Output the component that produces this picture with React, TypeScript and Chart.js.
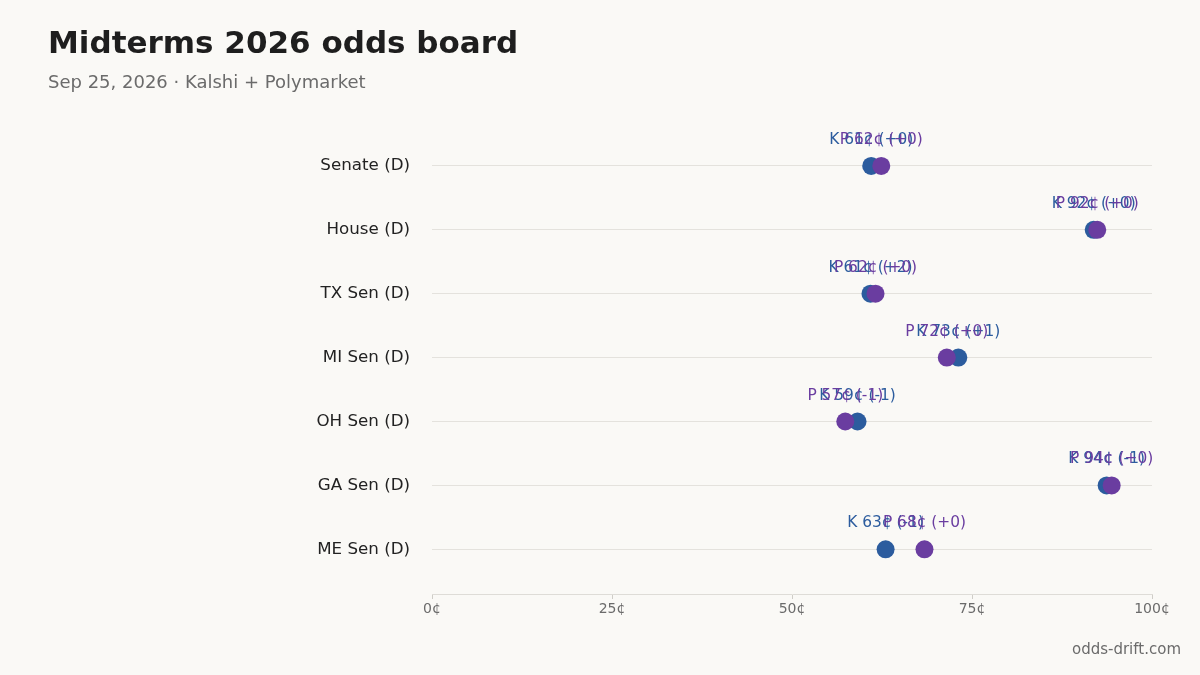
import { useEffect, useRef } from "react";
import { Chart, registerables } from "chart.js";

Chart.register(...registerables);

const categories = ["Senate (D)", "House (D)", "TX Sen (D)", "MI Sen (D)", "OH Sen (D)", "GA Sen (D)", "ME Sen (D)"];
const kalshi = [61, 91.9, 60.9, 73.1, 59.1, 93.7, 63];
const poly = [62.4, 92.4, 61.6, 71.5, 57.4, 94.4, 68.4];
const kalshiChange = [0, 0, 2, 1, -1, -1, -1];
const polyChange = [0, 0, 0, 0, -1, 0, 0];
const xTicks = [0, 25, 50, 75, 100];

const BLUE = "#2c5c9e";
const PURPLE = "#6a3da0";
const FONT = "'DejaVu Sans', sans-serif";

const fmtChange = (c: number) => (c >= 0 ? `+${c}` : `${c}`);

// text over each dot, kalshi first so polymarket lands on top
const dotLabels = {
  id: "dotLabels",
  afterDatasetsDraw(chart: any) {
    const { ctx } = chart;
    const x = chart.scales.x;
    const y = chart.scales.y;
    ctx.save();
    ctx.font = `15.4px ${FONT}`;
    ctx.textAlign = "center";
    ctx.textBaseline = "middle";
    const rows: [string, number[], number[], string][] = [
      ["K", kalshi, kalshiChange, BLUE],
      ["P", poly, polyChange, PURPLE],
    ];
    for (const [tag, vals, chg, color] of rows) {
      ctx.fillStyle = color;
      vals.forEach((v, i) => {
        ctx.fillText(`${tag} ${Math.round(v)}¢ (${fmtChange(chg[i])})`, x.getPixelForValue(v), y.getPixelForValue(i) - 26);
      });
    }
    ctx.restore();
  },
};

export default function App() {
  const canvasRef = useRef<HTMLCanvasElement>(null);

  useEffect(() => {
    document.body.style.margin = "0";
    if (!canvasRef.current) return;
    const chart = new Chart(canvasRef.current, {
      type: "scatter",
      data: {
        datasets: [
          {
            label: "Polymarket",
            data: poly.map((v, i) => ({ x: v, y: i })),
            backgroundColor: PURPLE,
            borderWidth: 0,
            pointRadius: 9,
            order: 0,
          },
          {
            label: "Kalshi",
            data: kalshi.map((v, i) => ({ x: v, y: i })),
            backgroundColor: BLUE,
            borderWidth: 0,
            pointRadius: 9,
            order: 1,
          },
        ],
      },
      options: {
        responsive: false,
        animation: false,
        layout: { padding: { top: 134, right: 48, bottom: 0, left: 0 } },
        plugins: { legend: { display: false }, tooltip: { enabled: false } },
        scales: {
          x: {
            type: "linear",
            min: 0,
            max: 100,
            afterBuildTicks: (s: any) => {
              s.ticks = xTicks.map((value) => ({ value }));
            },
            afterFit: (s: any) => {
              s.height = 81;
            },
            ticks: { color: "#6b6b6b", font: { family: FONT, size: 14 }, padding: 2, callback: (v: any) => `${v}¢` },
            grid: { drawOnChartArea: false, drawTicks: true, tickLength: 5, color: "#cfcdc8" },
            border: { display: true, color: "#dedcd7" },
          },
          y: {
            type: "linear",
            reverse: true,
            min: -0.5,
            max: 6.7,
            afterBuildTicks: (s: any) => {
              s.ticks = categories.map((_, value) => ({ value }));
            },
            afterFit: (s: any) => {
              s.width = 432;
            },
            ticks: { color: "#222", font: { family: FONT, size: 16.7 }, padding: 22, callback: (v: any) => categories[v] ?? "" },
            grid: { drawTicks: false, color: "#e4e2dd", lineWidth: 1 },
            border: { display: false },
          },
        },
      },
      plugins: [dotLabels],
    });
    return () => chart.destroy();
  }, []);

  return (
    <div style={{ position: "relative", width: 1200, height: 675, background: "#faf9f6", fontFamily: FONT, overflow: "hidden" }}>
      <canvas ref={canvasRef} width={1200} height={675} style={{ position: "absolute", left: 0, top: 0 }} />
      <div style={{ position: "absolute", left: 48, top: 24, fontSize: 31, fontWeight: "bold", color: "#1e1e1e" }}>
        Midterms 2026 odds board
      </div>
      <div style={{ position: "absolute", left: 48, top: 71, fontSize: 18, color: "#6b6b6b" }}>
        Sep 25, 2026 · Kalshi + Polymarket
      </div>
      <div style={{ position: "absolute", right: 19, top: 640, fontSize: 15, color: "#6b6b6b" }}>odds-drift.com</div>
    </div>
  );
}
